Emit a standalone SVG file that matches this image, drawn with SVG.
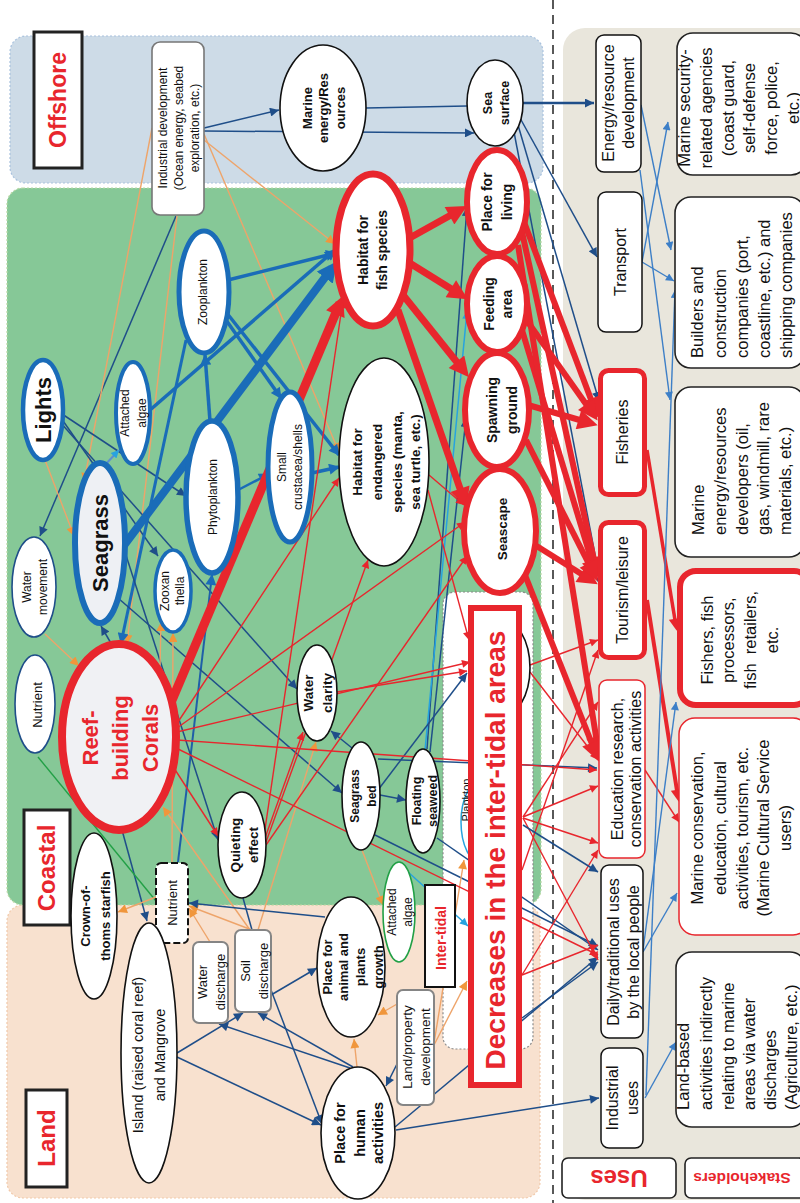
<svg xmlns="http://www.w3.org/2000/svg" width="800" height="1203" viewBox="0 0 800 1203">
<defs>
<style>
text{font-family:"Liberation Sans",Arial,"DejaVu Sans",sans-serif;text-anchor:middle;fill:#111}
.st{text-anchor:start}
.b{font-weight:700}
.red{fill:#e8262d;font-weight:700}
.f11{font-size:11px}.f12{font-size:12px}.f125{font-size:12.5px}.f13{font-size:13px}.f135{font-size:13.5px}
.f14{font-size:14px}.f145{font-size:14.5px}.f155{font-size:15.5px}.f16{font-size:16px}.f165{font-size:16.5px}
.f22{font-size:22px}.f23{font-size:23px}.f24{font-size:24px}.f28{font-size:28px}
.el{fill:#fff;stroke:#111;stroke-width:1.6}
.elr{fill:#fff;stroke:#e8262d;stroke-width:6}
.elb{fill:#fff;stroke:#1a6cb8;stroke-width:4.5}
.box{fill:#fff;stroke:#111;stroke-width:1.5}
.gbox{fill:#fff;stroke:#858585;stroke-width:2}
.lab{fill:#fff;stroke:#222;stroke-width:3}
.sh{fill:#fff;stroke:#222;stroke-width:1.6}
.nv{fill:none;stroke:#1f4e89;stroke-width:1.5;marker-end:url(#aNv)}
.nv0{fill:none;stroke:#1f4e89;stroke-width:1.5}
.bl{fill:none;stroke:#1a6cb8;stroke-width:3.5;marker-end:url(#aBl)}
.blT{fill:none;stroke:#1a6cb8;stroke-width:8;marker-end:url(#aBlB)}
.lb{fill:none;stroke:#27a3df;stroke-width:1.5;marker-end:url(#aLb)}
.or{fill:none;stroke:#eea46a;stroke-width:1.4;marker-end:url(#aOr)}
.gr{fill:none;stroke:#22a046;stroke-width:1.4}
.rd{fill:none;stroke:#e8262d;stroke-width:1.4;marker-end:url(#aRd)}
.rdT{fill:none;stroke:#e8262d;stroke-width:7;marker-end:url(#aRdB)}
.rdM{fill:none;stroke:#e8262d;stroke-width:3.5;marker-end:url(#aRdM)}
.sb{fill:none;stroke:#3d7fc7;stroke-width:1.4;marker-end:url(#aSb)}
</style>
<marker id="aNv" markerUnits="userSpaceOnUse" viewBox="0 0 10 10" refX="10" refY="5" markerWidth="11" markerHeight="9" orient="auto"><path d="M0,0L10,5L0,10z" fill="#1f4e89"/></marker>
<marker id="aBl" markerUnits="userSpaceOnUse" viewBox="0 0 10 10" refX="9" refY="5" markerWidth="13" markerHeight="11" orient="auto"><path d="M0,0L10,5L0,10z" fill="#1a6cb8"/></marker>
<marker id="aBlB" markerUnits="userSpaceOnUse" viewBox="0 0 10 10" refX="6" refY="5" markerWidth="20" markerHeight="20" orient="auto"><path d="M0,0L10,5L0,10z" fill="#1a6cb8"/></marker>
<marker id="aLb" markerUnits="userSpaceOnUse" viewBox="0 0 10 10" refX="10" refY="5" markerWidth="10" markerHeight="8" orient="auto"><path d="M0,0L10,5L0,10z" fill="#27a3df"/></marker>
<marker id="aOr" markerUnits="userSpaceOnUse" viewBox="0 0 10 10" refX="10" refY="5" markerWidth="11" markerHeight="9" orient="auto"><path d="M0,0L10,5L0,10z" fill="#f0963c"/></marker>
<marker id="aRd" markerUnits="userSpaceOnUse" viewBox="0 0 10 10" refX="10" refY="5" markerWidth="10" markerHeight="8" orient="auto"><path d="M0,0L10,5L0,10z" fill="#e8262d"/></marker>
<marker id="aRdB" markerUnits="userSpaceOnUse" viewBox="0 0 10 10" refX="6" refY="5" markerWidth="22" markerHeight="20" orient="auto"><path d="M0,0L10,5L0,10z" fill="#e8262d"/></marker>
<marker id="aRdM" markerUnits="userSpaceOnUse" viewBox="0 0 10 10" refX="6" refY="5" markerWidth="14" markerHeight="12" orient="auto"><path d="M0,0L10,5L0,10z" fill="#e8262d"/></marker>
<marker id="aSb" markerUnits="userSpaceOnUse" viewBox="0 0 10 10" refX="10" refY="5" markerWidth="10" markerHeight="8" orient="auto"><path d="M0,0L10,5L0,10z" fill="#3d7fc7"/></marker>
</defs>

<rect width="800" height="1203" fill="#fff"/>

<!-- zone backgrounds -->
<g id="zones">
  <rect x="10" y="36" width="533" height="147" rx="16" fill="#cddbe7" stroke="#a9c2de" stroke-width="1.2" stroke-dasharray="2 2"/>
  <rect x="7" y="905" width="533" height="293" rx="16" fill="#f8e1cf" stroke="#f1c9aa" stroke-width="1.2" stroke-dasharray="2 2"/>
  <rect x="7" y="188" width="534" height="717" rx="16" fill="#86c897" stroke="#b9d9a6" stroke-width="1.2" stroke-dasharray="2 2"/>
  <rect x="443" y="592" width="90" height="457" rx="12" fill="#fff" stroke="#8a8a8a" stroke-width="1.2" stroke-dasharray="2 2"/>
  <rect x="563" y="28" width="260" height="1172" rx="22" fill="#e9e6dc"/>
  <line x1="553" y1="0" x2="553" y2="1203" stroke="#222" stroke-width="1.5" stroke-dasharray="9 6"/>
</g>

<!-- connectors -->
<g id="connectors">
  <!-- offshore links -->
  <path class="nv" d="M204,128L279,110"/>
  <path class="nv" d="M204,131L474,133"/>
  <path class="nv0" d="M366,108L467,106"/>
  <path d="M523,103L594,103" fill="none" stroke="#1f4e89" stroke-width="2.6" marker-end="url(#aNv)"/>
  <path class="nv" d="M520,118L597,257"/>
  <path class="nv" d="M518,125L599,401"/>
  <path class="nv" d="M514,132L601,586"/>
  <path class="nv" d="M176,216L40,536"/>
  <!-- industrial development (orange) -->
  <path class="or" d="M152,128L84,482"/>
  <path class="or" d="M177,216L127,644"/>
  <path class="or" d="M204,140L335,244"/>
  <path class="or" d="M204,134L339,452"/>
  <!-- lights -->
  <path class="or" d="M45,460L74,536"/>
  <path class="nv" d="M62,414L186,496"/>
  <path class="nv" d="M61,418L158,556"/>
  <path class="nv" d="M60,422L297,689"/>
  <!-- food web (blue) -->
  <path class="bl" d="M228,280L336,253"/>
  <path class="bl" d="M150,410L335,250"/>
  <path class="blT" d="M122,548L332,268"/>
  <path class="bl" d="M226,320L281,398"/>
  <path class="bl" d="M226,312L339,455"/>
  <path class="bl" d="M312,473L339,467"/>
  <path class="bl" d="M210,421L205,355"/>
  <path class="bl" d="M238,490L269,474" style="stroke-width:2.5"/>
  <path class="bl" d="M186,340L121,643" style="stroke-width:3"/>
  <path class="bl" d="M178,862L212,575" style="stroke-width:2;stroke:#1f5fa8"/>
  <path class="lb" d="M104,466L119,450" style="stroke:#5b8fd0;stroke-width:2"/>
  <!-- coastal physical links -->
  <path class="nv" d="M118,598L342,793"/>
  <path class="nv" d="M123,546L218,840"/>
  <path class="nv" d="M352,748L331,731"/>
  <path class="nv" d="M380,795L406,800"/>
  <path class="nv" d="M378,759L597,768"/>
  <path class="nv" d="M375,835L598,946"/>
  <path class="nv" d="M437,838L598,950"/>
  <path class="nv" d="M427,749L467,207"/>
  <path class="nv" d="M430,752L466,418"/>
  <path class="lb" d="M425,750L467,311"/>
  <path class="nv" d="M378,790L467,673"/>
  <path class="nv" d="M112,645L101,626"/>
  <path class="nv" d="M122,830L147,921"/>
  <path class="nv0" d="M243,898L252,930"/>
  <path class="gr" d="M38,757L156,901"/>
  <path class="or" d="M45,634L79,666"/>
  <path class="or" d="M172,863L173,633"/>
  <path class="or" d="M160,665L161,622"/>
  <path class="or" d="M250,930L163,807"/>
  <path class="or" d="M210,942L189,908"/>
  <path class="or" d="M252,930L189,906"/>
  <path class="or" d="M156,897L118,912"/>
  <path class="or" d="M258,930L316,742"/>
  <path class="or" d="M362,850L383,905"/>
  <!-- land links -->
  <path class="nv" d="M325,917L189,903"/>
  <path class="nv" d="M350,1068L219,1024"/>
  <path class="nv" d="M353,1067L258,1013"/>
  <path class="nv" d="M177,1053L243,1013"/>
  <path class="nv" d="M177,1057L321,1125"/>
  <path class="nv" d="M271,990L322,1124"/>
  <path class="nv" d="M271,995L317,968"/>
  <path class="nv" d="M404,1050L386,1086"/>
  <path class="nv" d="M396,1130L599,1098"/>
  <path class="nv" d="M395,1127L598,957"/>
  <path class="or" d="M404,1000L378,1015"/>
  <path class="or" d="M357,1067L354,1039"/>
  <path class="or" d="M434,1045L467,981"/>
  <path class="or" d="M434,1043L464,860"/>
  <path class="lb" d="M408,872L468,926"/>
  <!-- ecosystem services (thin red) -->
  <path class="rd" d="M176,725L339,478"/>
  <path class="rd" d="M177,728L465,522"/>
  <path class="rd" d="M177,732L470,662"/>
  <path class="rd" d="M177,740L597,770"/>
  <path class="rd" d="M176,748L598,955"/>
  <path class="rd" d="M172,765L218,836"/>
  <path class="rd" d="M265,838L303,732"/>
  <path class="rd" d="M264,836L343,300"/>
  <path class="rd" d="M266,842L368,560"/>
  <path class="rd" d="M266,845L467,556"/>
  <path class="rd" d="M337,692L467,671"/>
  <path class="rd" d="M429,475L464,505"/>
  <path class="rd" d="M428,490L469,640"/>
  <path class="rd" d="M530,665L598,640"/>
  <path class="rd" d="M530,672L598,760"/>
  <path class="rd" d="M523,817L598,702"/>
  <path class="rd" d="M523,817L598,786"/>
  <path class="rd" d="M523,818L598,843"/>
  <path class="rd" d="M523,818L598,960"/>
  <path class="rd" d="M522,870L598,650"/>
  <path class="rd" d="M522,975L598,945"/>
  <path class="rd" d="M522,975L598,850"/>
  <path class="nv" d="M523,825L598,872"/>
  <path class="nv" d="M522,1018L598,962"/>
  <path class="rd" d="M645,770L679,822"/>
  <!-- fish habitat chain (thick red) -->
  <path class="rdT" d="M170,705L340,303" style="stroke-width:9"/>
  <path class="rdT" d="M406,240L460,210"/>
  <path class="rdT" d="M408,262L461,295"/>
  <path class="rdT" d="M403,295L464,371"/>
  <path class="rdT" d="M398,310L464,500"/>
  <path class="rdT" d="M524,222L595,410" style="stroke-width:6"/>
  <path class="rdT" d="M525,318L593,414" style="stroke-width:6"/>
  <path class="rdT" d="M528,405L590,423" style="stroke-width:6"/>
  <path class="rdT" d="M522,232L596,569" style="stroke-width:6"/>
  <path class="rdT" d="M522,330L595,572" style="stroke-width:6"/>
  <path class="rdT" d="M535,545L591,580" style="stroke-width:6"/>
  <path class="rdT" d="M526,440L594,574" style="stroke-width:6"/>
  <path class="rdT" d="M518,245L598,749" style="stroke-width:6"/>
  <path class="rdT" d="M525,575L596,754" style="stroke-width:6"/>
  <path class="rdM" d="M647,450L676,626"/>
  <path class="rdM" d="M647,600L678,797" style="stroke-width:4"/>
  <!-- uses to stakeholders -->
  <path class="sb" d="M641,105L671,250"/>
  <path class="sb" d="M642,262L668,122"/>
  <path class="sb" d="M642,262L674,281"/>
  <path class="sb" d="M640,170L670,400"/>
  <path class="sb" d="M646,1095L675,290"/>
  <path class="sb" d="M643,950L676,702"/>
  <path class="sb" d="M643,952L677,893"/>
  <path class="sb" d="M645,1098L676,1042"/>
</g>

<!-- zone labels -->
<g id="label-offshore"><rect class="lab" x="34" y="32" width="48" height="136"/><text class="red f23" transform="rotate(-90)" x="-100" y="66">Offshore</text></g>
<g id="label-coastal"><rect class="lab" x="24" y="810" width="46" height="115"/><text class="red f24" transform="rotate(-90)" x="-868" y="55.4">Coastal</text></g>
<g id="label-land"><rect class="lab" x="26" y="1090" width="41" height="97"/><text class="red f24" transform="rotate(-90)" x="-1138" y="55">Land</text></g>

<!-- offshore nodes -->
<g id="n-industrial"><rect x="152" y="42" width="52" height="173" rx="8" fill="#fff" stroke="#777" stroke-width="1.6"/>
<text class="f12" transform="rotate(-90)"><tspan x="-128" y="167">Industrial development</tspan><tspan x="-128" y="183">(Ocean energy, seabed</tspan><tspan x="-128" y="199">exploration, etc.)</tspan></text></g>
<g id="n-marine-energy"><ellipse class="el" cx="323" cy="108" rx="43" ry="63"/>
<text class="b f13" transform="rotate(-90)"><tspan x="-108" y="311.7">Marine</tspan><tspan x="-108" y="327.7">energy/Res</tspan><tspan x="-108" y="344.7">ources</tspan></text></g>
<g id="n-sea-surface"><ellipse class="el" cx="495" cy="103" rx="28" ry="43"/>
<text class="b f125" transform="rotate(-90)"><tspan x="-103" y="492.4">Sea</tspan><tspan x="-103" y="509.4">surface</tspan></text></g>

<!-- coastal nodes -->
<g id="n-habitat-fish"><ellipse class="elr" cx="373" cy="250" rx="37" ry="76" style="stroke-width:7"/>
<text class="b f14" transform="rotate(-90)"><tspan x="-250" y="368">Habitat for</tspan><tspan x="-250" y="387">fish species</tspan></text></g>
<g id="n-place-living"><ellipse class="elr" cx="497" cy="202" rx="30" ry="52"/>
<text class="b f14" transform="rotate(-90)"><tspan x="-202" y="492">Place for</tspan><tspan x="-202" y="512">living</tspan></text></g>
<g id="n-feeding"><ellipse class="elr" cx="497" cy="304" rx="30" ry="48"/>
<text class="b f14" transform="rotate(-90)"><tspan x="-304" y="494">Feeding</tspan><tspan x="-304" y="512">area</tspan></text></g>
<g id="n-spawning"><ellipse class="elr" cx="497" cy="410" rx="32" ry="57"/>
<text class="b f14" transform="rotate(-90)"><tspan x="-410" y="497">Spawning</tspan><tspan x="-410" y="517">ground</tspan></text></g>
<g id="n-seascape"><ellipse class="elr" cx="500" cy="531" rx="36" ry="62"/>
<text class="b f135" transform="rotate(-90)" x="-529" y="507">Seascape</text></g>
<g id="n-habitat-endangered"><ellipse class="el" cx="384" cy="462" rx="45" ry="104"/>
<text class="b f135" transform="rotate(-90)"><tspan x="-462" y="362">Habitat for</tspan><tspan x="-462" y="382">endangered</tspan><tspan x="-462" y="402">species (manta,</tspan><tspan x="-462" y="420">sea turtle, etc.)</tspan></text></g>
<g id="n-crustacea"><ellipse class="elb" cx="290" cy="467" rx="22" ry="75" style="stroke-width:5"/>
<text class="f12" transform="rotate(-90)"><tspan x="-467" y="286">Small</tspan><tspan x="-467" y="302">crustacea/shells</tspan></text></g>
<g id="n-zooplankton"><ellipse class="elb" cx="204" cy="292" rx="25" ry="61" style="stroke-width:5"/>
<text class="f12" transform="rotate(-90)" x="-292" y="207">Zooplankton</text></g>
<g id="n-phytoplankton"><ellipse class="elb" cx="212" cy="497" rx="26" ry="76" style="stroke-width:5.5"/>
<text class="f12" transform="rotate(-90)" x="-497" y="217">Phytoplankton</text></g>
<g id="n-attached-algae"><ellipse class="elb" cx="133" cy="413" rx="17" ry="51" style="stroke-width:4"/>
<text class="f12" transform="rotate(-90)"><tspan x="-413" y="129">Attached</tspan><tspan x="-413" y="146">algae</tspan></text></g>
<g id="n-lights"><ellipse class="elb" cx="43" cy="410" rx="20" ry="50"/>
<text class="b f22" transform="rotate(-90)" x="-410" y="50.7">Lights</text></g>
<g id="n-seagrass"><ellipse class="elb" cx="100" cy="543" rx="25" ry="80" style="stroke-width:6;fill:#eef0f4"/>
<text class="b f22" transform="rotate(-90)" x="-543" y="107.7">Seagrass</text></g>
<g id="n-water-movement"><ellipse class="el" cx="34" cy="587" rx="22" ry="50" style="stroke:#1f4e89"/>
<text class="f12" transform="rotate(-90)"><tspan x="-587" y="31">Water</tspan><tspan x="-587" y="47">movement</tspan></text></g>
<g id="n-zooxanthella"><ellipse class="elb" cx="173" cy="591" rx="18" ry="41" style="stroke-width:3.5"/>
<text class="f12" transform="rotate(-90)"><tspan x="-591" y="169">Zooxan</tspan><tspan x="-591" y="184">thella</tspan></text></g>
<g id="n-nutrient"><ellipse class="el" cx="35" cy="704" rx="20" ry="49" style="stroke:#1f4e89"/>
<text class="f13" transform="rotate(-90)" x="-705" y="41.5">Nutrient</text></g>
<g id="n-corals"><ellipse class="elr" cx="119" cy="737" rx="57" ry="93" style="stroke-width:8;fill:#f0f1f4"/>
<text class="red f22" transform="rotate(-90)"><tspan x="-738" y="97.7">Reef-</tspan><tspan x="-738" y="127.7">building</tspan><tspan x="-738" y="157.7">Corals</tspan></text></g>
<g id="n-quieting"><ellipse class="el" cx="242" cy="845" rx="24" ry="53"/>
<text class="b f135" transform="rotate(-90)"><tspan x="-845" y="240">Quieting</tspan><tspan x="-845" y="258">effect</tspan></text></g>
<g id="n-water-clarity"><ellipse class="el" cx="317" cy="693" rx="20" ry="48"/>
<text class="b f135" transform="rotate(-90)"><tspan x="-693" y="313">Water</tspan><tspan x="-693" y="332">clarity</tspan></text></g>
<g id="n-seagrass-bed"><ellipse class="el" cx="361" cy="796" rx="19" ry="54"/>
<text class="b f12" transform="rotate(-90)"><tspan x="-796" y="359">Seagrass</tspan><tspan x="-796" y="376">bed</tspan></text></g>
<g id="n-floating-seaweed"><ellipse class="el" cx="423" cy="801" rx="17" ry="52"/>
<text class="b f125" transform="rotate(-90)"><tspan x="-801" y="421">Floating</tspan><tspan x="-801" y="437">seaweed</tspan></text></g>

<!-- inter-tidal nodes -->
<g id="n-plankton"><ellipse cx="482" cy="822" rx="21" ry="42" fill="#fff" stroke="#27a3df" stroke-width="1.5"/>
<text class="f11" transform="rotate(-90)" x="-800" y="470">Plankton</text></g>
<g id="n-intertidal-hidden"><ellipse class="el" cx="500" cy="668" rx="30" ry="50"/></g>
<g id="n-decreases"><rect x="471" y="608" width="48" height="477" fill="#fff" stroke="#e8262d" stroke-width="6"/>
<text class="red f28" transform="rotate(-90)" x="-850" y="505">Decreases in the inter-tidal areas</text></g>
<g id="label-intertidal"><rect x="425" y="885" width="30" height="102" fill="#fff" stroke="#111" stroke-width="2"/>
<text class="red f14" transform="rotate(-90)" x="-938" y="446">Inter-tidal</text></g>
<g id="n-attached-algae-intertidal"><ellipse class="el" cx="399" cy="912" rx="16" ry="50" style="stroke:#22a046"/>
<text class="f12" transform="rotate(-90)"><tspan x="-912" y="396">Attached</tspan><tspan x="-912" y="412">algae</tspan></text></g>

<!-- land nodes -->
<g id="n-crown-of-thorns"><ellipse class="el" cx="94" cy="916" rx="23" ry="83"/>
<text class="b f13" transform="rotate(-90)"><tspan x="-916" y="89.5">Crown-of-</tspan><tspan x="-916" y="109.5">thoms starfish</tspan></text></g>
<g id="n-nutrient-land"><rect x="156" y="863" width="32" height="80" rx="5" fill="#fff" stroke="#111" stroke-width="2" stroke-dasharray="7 3"/>
<text class="f13" transform="rotate(-90)" x="-903" y="176.5">Nutrient</text></g>
<g id="n-island"><ellipse class="el" cx="149" cy="1053" rx="28" ry="130"/>
<text class="f145" transform="rotate(-90)"><tspan x="-1055" y="143">Island (raised coral reef)</tspan><tspan x="-1055" y="165">and Mangrove</tspan></text></g>
<g id="n-water-discharge"><rect class="gbox" x="193" y="942" width="35" height="81" rx="6"/>
<text class="f13" transform="rotate(-90)"><tspan x="-982" y="206.5">Water</tspan><tspan x="-982" y="224.5">discharge</tspan></text></g>
<g id="n-soil-discharge"><rect class="gbox" x="235" y="930" width="36" height="82" rx="6"/>
<text class="f13" transform="rotate(-90)"><tspan x="-971" y="249.5">Soil</tspan><tspan x="-971" y="267.5">discharge</tspan></text></g>
<g id="n-place-growth"><ellipse class="el" cx="351" cy="967" rx="34" ry="70"/>
<text class="b f13" transform="rotate(-90)"><tspan x="-967" y="331.5">Place for</tspan><tspan x="-967" y="347.5">animal and</tspan><tspan x="-967" y="364.5">plants</tspan><tspan x="-967" y="382.5">growth</tspan></text></g>
<g id="n-land-property"><rect class="gbox" x="397" y="990" width="37" height="115" rx="6"/>
<text class="f135" transform="rotate(-90)"><tspan x="-1047" y="412">Land/property</tspan><tspan x="-1047" y="430">development</tspan></text></g>
<g id="n-place-human"><ellipse class="el" cx="358" cy="1133" rx="37" ry="66"/>
<text class="b f145" transform="rotate(-90)"><tspan x="-1133" y="345">Place for</tspan><tspan x="-1133" y="365">human</tspan><tspan x="-1133" y="383">activities</tspan></text></g>

<!-- uses -->
<g id="u-energy"><rect class="box" x="596" y="35" width="45" height="137" rx="8"/>
<text class="f16" transform="rotate(-90)"><tspan x="-103" y="613.6">Energy/resource</tspan><tspan x="-103" y="633.6">development</tspan></text></g>
<g id="u-transport"><rect class="box" x="598" y="192" width="44" height="140" rx="8"/>
<text class="f16" transform="rotate(-90)" x="-262" y="625.6">Transport</text></g>
<g id="u-fisheries"><rect x="600.5" y="370.5" width="44" height="124" rx="8" fill="#fff" stroke="#e8262d" stroke-width="5"/>
<text class="f16" transform="rotate(-90)" x="-432" y="628">Fisheries</text></g>
<g id="u-tourism"><rect x="600.5" y="522.5" width="44" height="135" rx="8" fill="#fff" stroke="#e8262d" stroke-width="5"/>
<text class="f16" transform="rotate(-90)" x="-590" y="628">Tourism/leisure</text></g>
<g id="u-education"><rect x="599" y="680" width="46" height="178" rx="8" fill="#fff" stroke="#e8262d" stroke-width="1.5"/>
<text class="f16" transform="rotate(-90)"><tspan x="-769" y="622.6">Education research,</tspan><tspan x="-769" y="640.6">conservation activities</tspan></text></g>
<g id="u-daily"><rect class="box" x="601" y="865" width="42" height="173" rx="8"/>
<text class="f16" transform="rotate(-90)"><tspan x="-952" y="618.6">Daily/traditional uses</tspan><tspan x="-952" y="638.6">by the local people</tspan></text></g>
<g id="u-industrial"><rect class="box" x="601" y="1048" width="42" height="100" rx="8"/>
<text class="f16" transform="rotate(-90)"><tspan x="-1098" y="617.6">Industrial</tspan><tspan x="-1098" y="637.6">uses</tspan></text></g>

<!-- stakeholders -->
<g id="s-security"><rect class="sh" x="677" y="33" width="130" height="142" rx="16"/>
<text class="f165" transform="rotate(-90)"><tspan x="-108" y="690">Marine security-</tspan><tspan x="-108" y="712">related agencies</tspan><tspan x="-108" y="734">(coast guard,</tspan><tspan x="-108" y="755">self-defense</tspan><tspan x="-108" y="777">force, police,</tspan><tspan x="-108" y="799">etc.)</tspan></text></g>
<g id="s-builders"><rect class="sh" x="675" y="197" width="130" height="171" rx="16"/>
<text class="f165 st" transform="rotate(-90)"><tspan x="-358" y="703">Builders and</tspan><tspan x="-358" y="726">construction</tspan><tspan x="-358" y="748">companies (port,</tspan><tspan x="-358" y="770">coastline, etc.) and</tspan><tspan x="-358" y="792">shipping companies</tspan></text></g>
<g id="s-energy-developers"><rect class="sh" x="675" y="387" width="130" height="170" rx="16"/>
<text class="f165 st" transform="rotate(-90)"><tspan x="-535" y="704">Marine</tspan><tspan x="-535" y="726">energy/resources</tspan><tspan x="-535" y="748">developers (oil,</tspan><tspan x="-535" y="769">gas, windmill, rare</tspan><tspan x="-535" y="791">materials, etc.)</tspan></text></g>
<g id="s-fishers"><rect x="680" y="571" width="130" height="134" rx="16" fill="#fff" stroke="#e8262d" stroke-width="6"/>
<text class="f165" transform="rotate(-90)"><tspan x="-640" y="713">Fishers, fish</tspan><tspan x="-640" y="734">processors,</tspan><tspan x="-640" y="756">fish&#160; retailers,</tspan><tspan x="-640" y="778">etc.</tspan></text></g>
<g id="s-cultural"><rect x="679" y="718" width="130" height="217" rx="16" fill="#fff" stroke="#e8262d" stroke-width="1.5"/>
<text class="f165" transform="rotate(-90)"><tspan x="-828" y="703">Marine conservation,</tspan><tspan x="-828" y="726">education, cultural</tspan><tspan x="-828" y="748">activities, tourism, etc.</tspan><tspan x="-828" y="769">(Marine Cultural Service</tspan><tspan x="-828" y="791">users)</tspan></text></g>
<g id="s-land-based"><rect class="sh" x="676" y="952" width="130" height="175" rx="16"/>
<text class="f165 st" transform="rotate(-90)"><tspan x="-1110" y="689">Land-based</tspan><tspan x="-1110" y="712">activities indirectly</tspan><tspan x="-1110" y="734">relating to marine</tspan><tspan x="-1110" y="755">areas via water</tspan><tspan x="-1110" y="776">discharges</tspan><tspan x="-1110" y="797">(Agriculture, etc.)</tspan></text></g>

<!-- column headers -->
<g id="label-uses"><rect class="sh" x="562" y="1158" width="114" height="40" rx="6"/>
<text class="red f24" transform="rotate(180 619 1178)" x="619" y="1186.4">Uses</text></g>
<g id="label-stakeholders"><rect class="sh" x="685" y="1158" width="120" height="40" rx="6"/>
<text class="red f155" transform="rotate(180 742 1178)" x="742" y="1183.5">Stakeholders</text></g>
</svg>
